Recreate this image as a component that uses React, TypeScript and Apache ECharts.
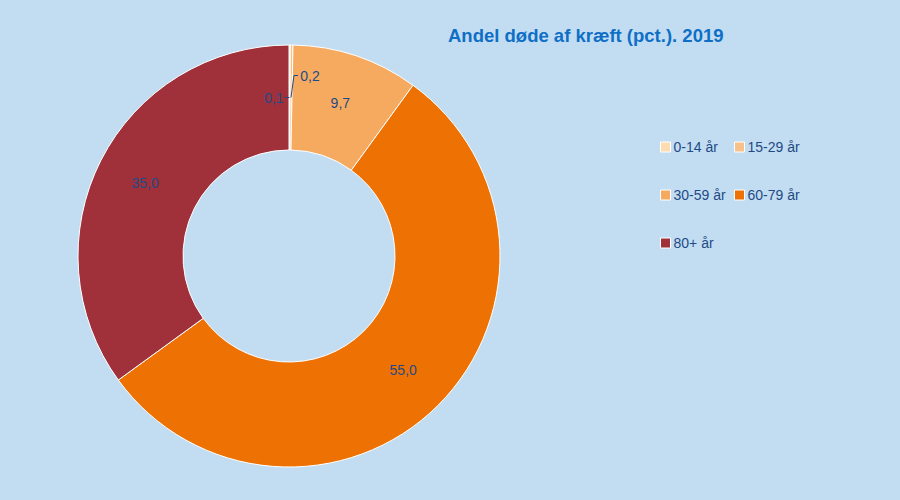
import React, { useEffect, useRef } from "react";
import * as echarts from "echarts";

const categories = ["0-14 år", "15-29 år", "30-59 år", "60-79 år", "80+ år"];
const values = [0.1, 0.2, 9.7, 55.0, 35.0];
const palette = ["#FDDCB0", "#F9C18A", "#F6AA60", "#EE7203", "#A0313A"];
const legendCol1 = ["0-14 år", "30-59 år", "80+ år"];
const legendCol2 = ["15-29 år", "60-79 år"];
const titleText = "Andel døde af kræft (pct.). 2019";

const fmt = (v: number) => v.toFixed(1).replace(".", ",");
const textColor = "#1F4A85";
const font = "Liberation Sans, Arial, sans-serif";

export default function App() {
  const ref = useRef<HTMLDivElement>(null);
  useEffect(() => {
    document.body.style.margin = "0";
    if (!ref.current) return;
    const chart = echarts.init(ref.current, undefined, { renderer: "svg" });
    const data = categories.map((name, i) => {
      const item: any = { name, value: values[i], itemStyle: { color: palette[i] } };
      if (i < 2) item.label = { position: "outside" };
      return item;
    });
    const legendCommon = {
      orient: "vertical" as const,
      icon: "rect",
      itemWidth: 10,
      itemHeight: 10,
      itemGap: 32,
      itemStyle: { borderColor: "#ffffff", borderWidth: 1 },
      textStyle: { color: textColor, fontSize: 14, fontFamily: font, lineHeight: 16, padding: [0, 0, 0, -2] },
      selectedMode: false,
    };
    chart.setOption({
      animation: false,
      backgroundColor: "#C2DDF2",
      color: palette,
      title: {
        text: titleText,
        left: 443,
        top: 21,
        textStyle: { color: "#0F6FC6", fontSize: 18.5, fontWeight: "bold", fontFamily: font },
      },
      legend: [
        { ...legendCommon, left: 655, top: 134, data: legendCol1 },
        { ...legendCommon, left: 729, top: 134, data: legendCol2 },
      ],
      series: [
        {
          type: "pie",
          center: [289, 256],
          radius: [106, 211],
          startAngle: 90,
          clockwise: true,
          avoidLabelOverlap: false,
          itemStyle: { borderColor: "#ffffff", borderWidth: 1 },
          label: {
            show: true,
            position: "inside",
            color: textColor,
            fontSize: 14,
            fontFamily: font,
            formatter: (p: any) => fmt(p.value),
          },
          labelLine: { show: false },
          labelLayout: (p: any) => {
            if (p.dataIndex > 1) return {};
            const ax = p.rect.x + p.rect.width / 2;
            const ay = p.rect.y + p.rect.height / 2;
            if (p.dataIndex === 0) {
              return { x: ax - 6, y: ay, align: "right", verticalAlign: "middle" };
            }
            return { x: ax + 9, y: ay - 22, align: "left", verticalAlign: "middle" };
          },
          data,
        },
      ],
    });

    // Leader lines for the two tiny slices, anchored on the library's own sector layout
    try {
      const sData = (chart as any).getModel().getSeriesByIndex(0).getData();
      const anchor = (i: number) => {
        const l = sData.getItemLayout(i);
        const mid = (l.startAngle + l.endAngle) / 2;
        const rm = (l.r + l.r0) / 2;
        return [l.cx + rm * Math.cos(mid), l.cy + rm * Math.sin(mid)];
      };
      const [a0x, a0y] = anchor(0);
      const [a1x, a1y] = anchor(1);
      chart.setOption({
        graphic: [
          {
            type: "polyline",
            silent: true,
            z: 100,
            shape: { points: [[a0x, a0y], [a0x - 5, a0y]] },
            style: { stroke: textColor, lineWidth: 1, fill: "none" },
          },
          {
            type: "polyline",
            silent: true,
            z: 100,
            shape: { points: [[a1x, a1y], [a1x + 3, a1y - 22], [a1x + 7, a1y - 22]] },
            style: { stroke: textColor, lineWidth: 1, fill: "none" },
          },
        ],
      });
    } catch (e) {
      // ignore
    }
    return () => chart.dispose();
  }, []);
  return <div ref={ref} style={{ width: 900, height: 500 }} />;
}
